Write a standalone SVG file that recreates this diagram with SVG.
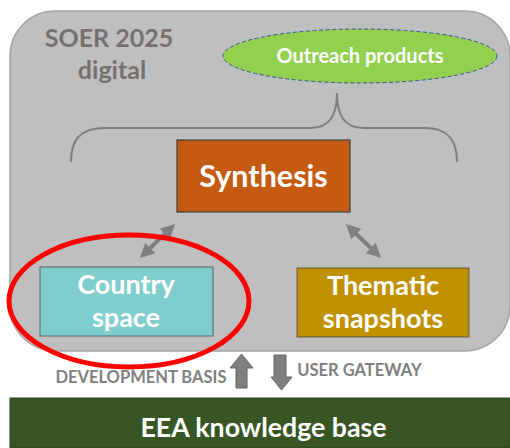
<svg xmlns="http://www.w3.org/2000/svg" width="510" height="448" viewBox="0 0 510 448">
<defs>
<style>
text{font-family:Lato,"Open Sans","Liberation Sans",sans-serif;font-weight:bold;text-anchor:middle}
.w{fill:#ffffff}
.g{fill:#767171}
.lbl{fill:#808080;font-size:16.5px}
.box{stroke:#404040;stroke-width:1.2}
.conn{stroke:#808080;stroke-width:4;fill:none;marker-start:url(#ah);marker-end:url(#ah)}
.blk{fill:#7f7f7f;stroke:#666666;stroke-width:1}
</style>
<marker id="ah" viewBox="0 0 10 10" refX="7" refY="5" markerWidth="3.6" markerHeight="3.6" orient="auto-start-reverse" markerUnits="strokeWidth">
<path d="M0,0 L10,5 L0,10 z" fill="#808080"/>
</marker>
</defs>
<rect width="510" height="448" fill="#ffffff"/>
<g id="soer">
<rect x="10" y="11" width="500" height="340" rx="45" ry="45" fill="#bfbfbf" stroke="#a6a6a6" stroke-width="1.5"/>
<text class="g" x="109" y="47" font-size="25">SOER 2025</text>
<text class="g" x="112" y="79" font-size="25">digital</text>
</g>
<g id="outreach">
<ellipse cx="360" cy="56" rx="137" ry="27" fill="#92d050" stroke="#2f5597" stroke-width="1" stroke-dasharray="4,2.5"/>
<text class="w" x="360" y="63" font-size="20">Outreach products</text>
</g>
<g id="brace">
<path d="M71,162 C71,140 80,128 105,128 L310,128 C330,128 337,115 337,93 C337,115 344,128 364,128 L425,128 C448,128 457,140 457,162" fill="none" stroke="#7f7f7f" stroke-width="2"/>
</g>
<g id="synthesis">
<rect class="box" x="177" y="140" width="173" height="72" fill="#c55a11"/>
<text class="w" x="263.5" y="187" font-size="30.5">Synthesis</text>
</g>
<g id="country">
<rect class="box" x="40" y="267" width="173" height="69" fill="#7fcdcd" stroke-opacity="0.6"/>
<text class="w" x="126" y="294" font-size="27">Country</text>
<text class="w" x="126" y="327" font-size="27">space</text>
</g>
<g id="thematic">
<rect class="box" x="297" y="268" width="172" height="69" fill="#bf9000" stroke-opacity="0.6"/>
<text class="w" x="383" y="295" font-size="27">Thematic</text>
<text class="w" x="383" y="328" font-size="27">snapshots</text>
</g>
<g id="connectors">
<line class="conn" x1="172" y1="227" x2="143" y2="255"/>
<line class="conn" x1="349" y1="227" x2="378" y2="255"/>
<path class="blk" d="M241.5,354 L253,368 L247,368 L247,388 L236,388 L236,368 L230,368 z"/>
<path class="blk" d="M274,355 L286,355 L286,377 L292,377 L281.5,390 L271,377 L274,377 z"/>
</g>
<g id="highlight">
<ellipse cx="129" cy="301" rx="120" ry="66" fill="none" stroke="#ff0000" stroke-width="5"/>
</g>
<g id="labels">
<text class="lbl" x="141" y="383">DEVELOPMENT BASIS</text>
<text class="lbl" x="359.5" y="376">USER GATEWAY</text>
</g>
<g id="eea">
<rect x="10" y="398" width="500" height="50" fill="#375623" stroke="#2b441b" stroke-width="1"/>
<text class="w" x="263.5" y="437" font-size="26.7">EEA knowledge base</text>
</g>
</svg>
